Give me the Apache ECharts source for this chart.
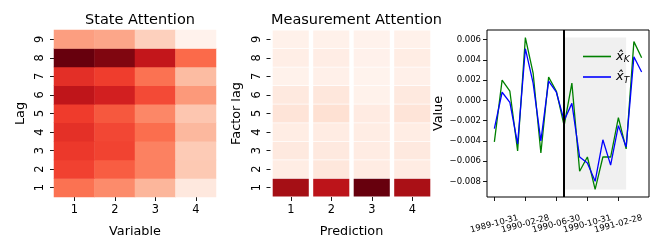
<!DOCTYPE html>
<html><head><meta charset="utf-8">
<script src="https://cdn.jsdelivr.net/npm/echarts@6/dist/echarts.min.js"></script>
<style>html,body{margin:0;padding:0;background:#fff}#c{width:661px;height:251px}</style>
</head><body><div id="c"></div>
<script>
// ---------- data ----------
const variables = ['1', '2', '3', '4'];
const lags = ['1', '2', '3', '4', '5', '6', '7', '8', '9'];
const predictions = ['1', '2', '3', '4'];
const factorLags = ['1', '2', '3', '4', '5', '6', '7', '8', '9'];

// rows: lag 1..9, columns: variable 1..4 (normalised attention)
const stateAttention = [
  [0.475, 0.397, 0.265, 0.077],
  [0.609, 0.535, 0.431, 0.203],
  [0.635, 0.604, 0.428, 0.196],
  [0.663, 0.593, 0.488, 0.259],
  [0.625, 0.548, 0.410, 0.213],
  [0.790, 0.725, 0.585, 0.354],
  [0.667, 0.620, 0.475, 0.248],
  [1.000, 0.950, 0.776, 0.500],
  [0.339, 0.314, 0.179, 0.018]
];
// rows: factor lag 1..9, columns: prediction 1..4
const measurementAttention = [
  [0.875, 0.800, 1.000, 0.860],
  [0.050, 0.085, 0.055, 0.055],
  [0.070, 0.072, 0.055, 0.070],
  [0.050, 0.055, 0.050, 0.050],
  [0.100, 0.120, 0.060, 0.100],
  [0.070, 0.085, 0.020, 0.072],
  [0.020, 0.030, 0.012, 0.030],
  [0.040, 0.045, 0.022, 0.048],
  [0.025, 0.025, 0.018, 0.025]
];

const dates = ['1989-10-31','1989-11-30','1989-12-31','1990-01-31','1990-02-28','1990-03-31',
  '1990-04-30','1990-05-31','1990-06-30','1990-07-31','1990-08-31','1990-09-30','1990-10-31',
  '1990-11-30','1990-12-31','1991-01-31','1991-02-28','1991-03-31','1991-04-30','1991-05-31'];
const xK = [-0.0041, 0.0020, 0.0009, -0.0050, 0.0062, 0.0027, -0.0052, 0.0023, 0.0009, -0.0025,
  0.0017, -0.0070, -0.0056, -0.0088, -0.0056, -0.0056, -0.0017, -0.0048, 0.0058, 0.0042];
const xT = [-0.0028, 0.0008, -0.0002, -0.0043, 0.0051, 0.0017, -0.0040, 0.0019, 0.0008, -0.0020,
  -0.0003, -0.0056, -0.0062, -0.0080, -0.0039, -0.0064, -0.0025, -0.0046, 0.0043, 0.0028];
const dateTicks = ['1989-10-31', '1990-02-28', '1990-06-30', '1990-10-31', '1991-02-28'];
const valueTicks = [-0.008, -0.006, -0.004, -0.002, 0.000, 0.002, 0.004, 0.006];
const splitDate = '1990-07-31';
const shadeEndDate = '1991-03-31';

// ---------- build ----------
const reds = ['#fff5f0','#fee0d2','#fcbba1','#fc9272','#fb6a4a','#ef3b2c','#cb181d','#a50f15','#67000d'];
const FONT = 'DejaVu Sans';
const stateData = [];
stateAttention.forEach((row, r) => row.forEach((v, c) => stateData.push([c, r, v])));
const measData = [];
measurementAttention.forEach((row, r) => row.forEach((v, c) => measData.push([c, r, v])));

const all = xK.concat(xT);
const dMin = Math.min(...all), dMax = Math.max(...all);
const yPad = (dMax - dMin) * 0.05;
const xPad = (dates.length - 1) * 0.05;
const tickIdx = dateTicks.map(d => dates.indexOf(d));
const tickIdxA = tickIdx.filter((_, i) => i % 2 === 0);
const tickIdxB = tickIdx.filter((_, i) => i % 2 === 1);
const fmtNum = v => v.toFixed(3).replace('-', '\u2212');

function catX(gi, cats, name) {
  return {
    type: 'category', gridIndex: gi, data: cats,
    axisLine: { show: false },
    axisTick: { show: true, alignWithLabel: true, length: 4, lineStyle: { color: '#000', width: 0.9 } },
    axisLabel: { fontSize: 11.4, color: '#000', margin: 8, fontFamily: FONT },
    splitLine: { show: false },
    name: name, nameLocation: 'middle', nameGap: 28,
    nameTextStyle: { fontSize: 12.8, color: '#000', fontFamily: FONT }
  };
}
function catY(gi, cats, name) {
  return {
    type: 'category', gridIndex: gi, data: cats,
    axisLine: { show: false },
    axisTick: { show: true, alignWithLabel: true, length: 4, lineStyle: { color: '#000', width: 0.9 } },
    axisLabel: { fontSize: 11.4, color: '#000', margin: 8, rotate: 90, fontFamily: FONT },
    splitLine: { show: false },
    name: name, nameLocation: 'middle', nameGap: 27,
    nameTextStyle: { fontSize: 12.8, color: '#000', fontFamily: FONT }
  };
}
function dateAxis(vals) {
  return {
    type: 'value', gridIndex: 2, position: 'bottom', offset: 0,
    min: -xPad, max: dates.length - 1 + xPad,
    axisLine: { show: false, onZero: false }, splitLine: { show: false },
    axisTick: { show: true, length: 4, customValues: vals, lineStyle: { color: '#000', width: 0.9 } },
    axisLabel: { customValues: vals, formatter: v => dates[Math.round(v)], rotate: 15, interval: 0,
      showMinLabel: true, showMaxLabel: true, hideOverlap: false,
      align: 'center', verticalAlign: 'middle', margin: 27, fontSize: 8.5, color: '#000', fontFamily: FONT }
  };
}

const option = {
  animation: false,
  textStyle: { fontFamily: FONT },
  title: [
    { text: 'State Attention', left: 135, top: 8, textAlign: 'center',
      textStyle: { fontSize: 14.5, fontWeight: 'normal', color: '#000', fontFamily: FONT } },
    { text: 'Measurement Attention', left: 351.5, top: 8, textAlign: 'center',
      textStyle: { fontSize: 14.5, fontWeight: 'normal', color: '#000', fontFamily: FONT } }
  ],
  grid: [
    { left: 54, top: 30, width: 162, height: 167 },
    { left: 270.5, top: 30, width: 162, height: 167 },
    { left: 487, top: 30, width: 162, height: 167, show: true, borderColor: '#000', borderWidth: 1, backgroundColor: 'transparent' }
  ],
  visualMap: [
    { show: false, seriesIndex: 0, dimension: 2, min: 0, max: 1, inRange: { color: reds } },
    { show: false, seriesIndex: 1, dimension: 2, min: 0, max: 1, inRange: { color: reds } }
  ],
  legend: {
    data: ['xK', 'xT'], orient: 'vertical', left: 578, top: 45, itemGap: 6,
    icon: 'rect', itemWidth: 28, itemHeight: 1.6,
    formatter: n => '{x|x\u0302}{s|' + n.slice(1) + '}',
    textStyle: {
      color: '#000',
      rich: {
        x: { fontSize: 13, fontStyle: 'italic', fontFamily: FONT, color: '#000', lineHeight: 16 },
        s: { fontSize: 9, fontStyle: 'italic', fontFamily: FONT, color: '#000', verticalAlign: 'bottom', lineHeight: 16 }
      }
    }
  },
  xAxis: [
    catX(0, variables, 'Variable'),
    catX(1, predictions, 'Prediction'),
    dateAxis(tickIdxA),
    dateAxis(tickIdxB)
  ],
  yAxis: [
    catY(0, lags, 'Lag'),
    catY(1, factorLags, 'Factor lag'),
    {
      type: 'value', gridIndex: 2, min: dMin - yPad, max: dMax + yPad,
      axisLine: { show: false, onZero: false }, splitLine: { show: false },
      axisTick: { show: true, length: 4, customValues: valueTicks, lineStyle: { color: '#000', width: 0.9 } },
      axisLabel: { customValues: valueTicks, formatter: fmtNum, margin: 6, fontSize: 8.5, color: '#000', fontFamily: FONT,
        showMinLabel: true, showMaxLabel: true },
      name: 'Value', nameLocation: 'middle', nameGap: 34,
      nameTextStyle: { fontSize: 12.8, color: '#000', fontFamily: FONT }
    }
  ],
  series: [
    { type: 'heatmap', xAxisIndex: 0, yAxisIndex: 0, data: stateData, itemStyle: { borderWidth: 0 } },
    {
      type: 'custom', xAxisIndex: 1, yAxisIndex: 1, data: measData, encode: { x: 0, y: 1 },
      renderItem: (params, api) => {
        const p = api.coord([api.value(0), api.value(1)]);
        const s = api.size([1, 1]);
        return { type: 'rect',
          shape: { x: p[0] - s[0] / 2 + 2.2, y: p[1] - s[1] / 2 + 0.4, width: s[0] - 4.4, height: s[1] - 0.8 },
          style: { fill: api.visual('color') } };
      }
    },
    {
      type: 'line', name: 'shade', xAxisIndex: 2, yAxisIndex: 2, data: [], z: 1, silent: true,
      markArea: { silent: true, itemStyle: { color: '#f0f0f0' },
        data: [[{ xAxis: dates.indexOf(splitDate), yAxis: dMin }, { xAxis: dates.indexOf(shadeEndDate), yAxis: dMax }]] }
    },
    { type: 'line', name: 'xK', xAxisIndex: 2, yAxisIndex: 2, z: 3, symbol: 'none',
      data: xK.map((v, i) => [i, v]), color: '#008000', lineStyle: { width: 1.3, color: '#008000' } },
    { type: 'line', name: 'xT', xAxisIndex: 2, yAxisIndex: 2, z: 4, symbol: 'none',
      data: xT.map((v, i) => [i, v]), color: '#0000ff', lineStyle: { width: 1.3, color: '#0000ff' } },
    {
      type: 'line', name: 'split', xAxisIndex: 2, yAxisIndex: 2, data: [], z: 6, silent: true,
      markLine: { silent: true, symbol: ['none', 'none'], label: { show: false },
        lineStyle: { color: '#000', width: 2, type: 'solid' },
        data: [{ xAxis: dates.indexOf(splitDate) }] }
    }
  ]
};
const chart = echarts.init(document.getElementById('c'), null, { renderer: 'canvas' });
chart.setOption(option);
</script></body></html>
